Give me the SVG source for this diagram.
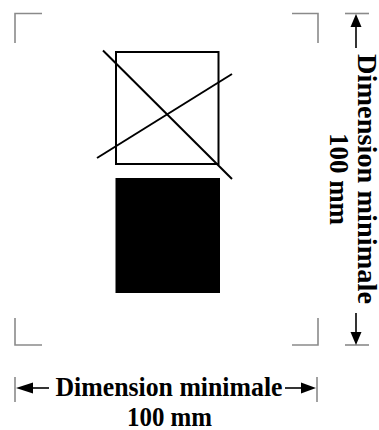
<svg xmlns="http://www.w3.org/2000/svg" width="379" height="430" viewBox="0 0 379 430">
<defs>
<style>
.mark{fill:none;stroke:#8a8a8a;stroke-width:1.6}
.blk{fill:none;stroke:#000;stroke-width:2}
.dim{fill:none;stroke:#000;stroke-width:1.6}
.ah{fill:#000}
.lbl{font-family:"Liberation Serif","Times New Roman",serif;font-weight:bold;fill:#000;text-anchor:middle}
</style>
</defs>
<rect width="379" height="430" fill="#fff"/>
<g id="crop-marks">
<path class="mark" d="M15,43 V13.5 H42"/>
<path class="mark" d="M292,13.5 H318 V43"/>
<path class="mark" d="M15,318 V345 H42"/>
<path class="mark" d="M292,345 H318 V318"/>
</g>
<g id="crossed-square">
<rect class="blk" x="116" y="52" width="102.5" height="112"/>
<line class="blk" x1="103" y1="50.5" x2="232" y2="179"/>
<line class="blk" x1="97" y1="158" x2="232" y2="74"/>
</g>
<g id="filled-square">
<rect x="115.5" y="178" width="104.5" height="115" fill="#000"/>
</g>
<g id="connectors">
<line class="mark" x1="345" y1="13.5" x2="369" y2="13.5"/>
<line class="mark" x1="345" y1="345" x2="369" y2="345"/>
<line class="dim" x1="356" y1="26" x2="356" y2="48"/>
<polygon class="ah" points="356,14 350.5,27 361.5,27"/>
<line class="dim" x1="356" y1="313" x2="356" y2="333"/>
<polygon class="ah" points="356,345 350.5,332 361.5,332"/>
<line class="mark" x1="15" y1="377" x2="15" y2="402"/>
<line class="mark" x1="317" y1="377" x2="317" y2="402"/>
<line class="dim" x1="32" y1="388" x2="49" y2="388"/>
<polygon class="ah" points="16,388 33,382.5 33,393.5"/>
<line class="dim" x1="285" y1="388" x2="302" y2="388"/>
<polygon class="ah" points="316,388 301,382.5 301,393.5"/>
</g>
<g id="label-vertical">
<text class="lbl" font-size="28" transform="translate(358,179) rotate(90)" textLength="250" lengthAdjust="spacingAndGlyphs">Dimension minimale</text>
<text class="lbl" font-size="28" transform="translate(330,179) rotate(90)" textLength="92" lengthAdjust="spacingAndGlyphs">100 mm</text>
</g>
<g id="label-horizontal">
<text class="lbl" x="169" y="396" font-size="27" textLength="227" lengthAdjust="spacingAndGlyphs">Dimension minimale</text>
<text class="lbl" x="169.5" y="426" font-size="27" textLength="85" lengthAdjust="spacingAndGlyphs">100 mm</text>
</g>
</svg>
